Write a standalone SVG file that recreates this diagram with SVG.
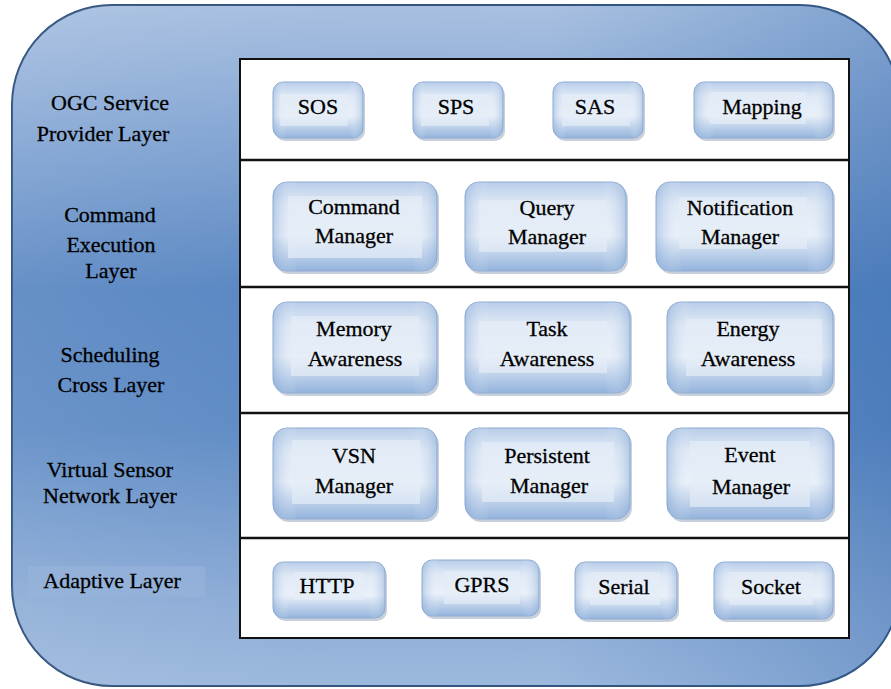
<svg xmlns="http://www.w3.org/2000/svg" width="891" height="689" viewBox="0 0 891 689">
  <defs>
    <linearGradient id="outerV" x1="0" y1="0" x2="0" y2="1">
      <stop offset="0" stop-color="#a9c1e1"/>
      <stop offset="0.12" stop-color="#92b0d9"/>
      <stop offset="0.42" stop-color="#5886c2"/>
      <stop offset="0.62" stop-color="#5e8bc5"/>
      <stop offset="0.88" stop-color="#8eadd7"/>
      <stop offset="1" stop-color="#9db9de"/>
    </linearGradient>
    <linearGradient id="outerH" x1="0" y1="0" x2="1" y2="0">
      <stop offset="0" stop-color="#ffffff" stop-opacity="0.08"/>
      <stop offset="0.6" stop-color="#3c70b2" stop-opacity="0"/>
      <stop offset="1" stop-color="#2f65aa" stop-opacity="0.35"/>
    </linearGradient>
    <linearGradient id="btn" x1="0" y1="0" x2="0" y2="1">
      <stop offset="0" stop-color="#b9cde9"/>
      <stop offset="0.25" stop-color="#dfe9f6"/>
      <stop offset="0.6" stop-color="#e9f0f9"/>
      <stop offset="1" stop-color="#93b3dc"/>
    </linearGradient>
    <linearGradient id="btnH" x1="0" y1="0" x2="1" y2="0">
      <stop offset="0" stop-color="#7fa4d3" stop-opacity="0.45"/>
      <stop offset="0.15" stop-color="#ffffff" stop-opacity="0"/>
      <stop offset="0.85" stop-color="#ffffff" stop-opacity="0"/>
      <stop offset="1" stop-color="#7fa4d3" stop-opacity="0.45"/>
    </linearGradient>
    <style>
      .lbl{font-family:'Liberation Serif','Times New Roman','DejaVu Serif',serif;font-size:22px;fill:#000;text-anchor:middle;stroke:#000;stroke-width:0.3}
      .btn{fill:url(#btn);stroke:#8eabd2;stroke-width:1}
      .btnh{fill:url(#btnH)}
      .shd{fill:#9aa9bd;opacity:0.55}
      .tb{fill:#e4ecf7;opacity:0.7}
      .div{stroke:#111;stroke-width:2.5}
    </style>
  </defs>

  <rect x="0" y="0" width="891" height="689" fill="#ffffff"/>

  <g id="frame">
    <rect x="12" y="5" width="888" height="681" rx="100" ry="100" fill="url(#outerV)" stroke="#33547e" stroke-width="2"/>
    <rect x="12" y="5" width="888" height="681" rx="100" ry="100" fill="url(#outerH)"/>
    <rect x="28" y="566" width="177" height="31" fill="#97b4da" opacity="0.6"/>
    <rect x="240" y="59" width="609" height="579" fill="#ffffff" stroke="#111" stroke-width="2"/>
  </g>

  <g id="connectors">
    <line class="div" x1="240" y1="160" x2="849" y2="160"/>
    <line class="div" x1="240" y1="287" x2="849" y2="287"/>
    <line class="div" x1="240" y1="413" x2="849" y2="413"/>
    <line class="div" x1="240" y1="538" x2="849" y2="538"/>
  </g>

  <g id="layer-labels">
    <text class="lbl" x="110" y="110">OGC Service</text>
    <text class="lbl" x="103" y="141">Provider Layer</text>
    <text class="lbl" x="110" y="222">Command</text>
    <text class="lbl" x="111" y="252">Execution</text>
    <text class="lbl" x="111" y="278">Layer</text>
    <text class="lbl" x="110" y="362">Scheduling</text>
    <text class="lbl" x="111" y="392">Cross Layer</text>
    <text class="lbl" x="110" y="477">Virtual Sensor</text>
    <text class="lbl" x="110" y="503">Network Layer</text>
    <text class="lbl" x="112" y="588">Adaptive Layer</text>
  </g>

  <!-- Row 1 -->
  <g id="sos">
    <rect class="shd" x="275" y="85" width="90" height="56" rx="10"/>
    <rect class="btn" x="273" y="82" width="90" height="56" rx="10"/>
    <rect class="btnh" x="273" y="82" width="90" height="56" rx="10"/>
    <rect class="tb" x="280" y="94" width="68" height="32"/>
    <text class="lbl" x="318" y="114">SOS</text>
  </g>
  <g id="sps">
    <rect class="shd" x="415" y="85" width="90" height="56" rx="10"/>
    <rect class="btn" x="413" y="82" width="90" height="56" rx="10"/>
    <rect class="btnh" x="413" y="82" width="90" height="56" rx="10"/>
    <rect class="tb" x="421" y="94" width="68" height="32"/>
    <text class="lbl" x="456" y="114">SPS</text>
  </g>
  <g id="sas">
    <rect class="shd" x="555" y="85" width="90" height="56" rx="10"/>
    <rect class="btn" x="553" y="82" width="90" height="56" rx="10"/>
    <rect class="btnh" x="553" y="82" width="90" height="56" rx="10"/>
    <rect class="tb" x="562" y="94" width="68" height="32"/>
    <text class="lbl" x="595" y="114">SAS</text>
  </g>
  <g id="mapping">
    <rect class="shd" x="696" y="85" width="139" height="56" rx="10"/>
    <rect class="btn" x="694" y="82" width="139" height="56" rx="10"/>
    <rect class="btnh" x="694" y="82" width="139" height="56" rx="10"/>
    <rect class="tb" x="710" y="92" width="96" height="32"/>
    <text class="lbl" x="762" y="114">Mapping</text>
  </g>

  <!-- Row 2 -->
  <g id="command-manager">
    <rect class="shd" x="275" y="185" width="164" height="89" rx="14"/>
    <rect class="btn" x="273" y="182" width="164" height="89" rx="14"/>
    <rect class="btnh" x="273" y="182" width="164" height="89" rx="14"/>
    <rect class="tb" x="288" y="196" width="134" height="62"/>
    <text class="lbl" x="354" y="214">Command</text>
    <text class="lbl" x="354" y="243">Manager</text>
  </g>
  <g id="query-manager">
    <rect class="shd" x="467" y="185" width="161" height="89" rx="14"/>
    <rect class="btn" x="465" y="182" width="161" height="89" rx="14"/>
    <rect class="btnh" x="465" y="182" width="161" height="89" rx="14"/>
    <rect class="tb" x="479" y="200" width="128" height="52"/>
    <text class="lbl" x="547" y="215">Query</text>
    <text class="lbl" x="547" y="244">Manager</text>
  </g>
  <g id="notification-manager">
    <rect class="shd" x="658" y="185" width="177" height="89" rx="14"/>
    <rect class="btn" x="656" y="182" width="177" height="89" rx="14"/>
    <rect class="btnh" x="656" y="182" width="177" height="89" rx="14"/>
    <rect class="tb" x="679" y="197" width="128" height="52"/>
    <text class="lbl" x="740" y="215">Notification</text>
    <text class="lbl" x="740" y="244">Manager</text>
  </g>

  <!-- Row 3 -->
  <g id="memory-awareness">
    <rect class="shd" x="275" y="305" width="164" height="91" rx="14"/>
    <rect class="btn" x="273" y="302" width="164" height="91" rx="14"/>
    <rect class="btnh" x="273" y="302" width="164" height="91" rx="14"/>
    <rect class="tb" x="291" y="316" width="128" height="60"/>
    <text class="lbl" x="354" y="336">Memory</text>
    <text class="lbl" x="355" y="366">Awareness</text>
  </g>
  <g id="task-awareness">
    <rect class="shd" x="467" y="305" width="165" height="91" rx="14"/>
    <rect class="btn" x="465" y="302" width="165" height="91" rx="14"/>
    <rect class="btnh" x="465" y="302" width="165" height="91" rx="14"/>
    <rect class="tb" x="479" y="321" width="128" height="52"/>
    <text class="lbl" x="547" y="336">Task</text>
    <text class="lbl" x="547" y="366">Awareness</text>
  </g>
  <g id="energy-awareness">
    <rect class="shd" x="669" y="305" width="166" height="91" rx="14"/>
    <rect class="btn" x="667" y="302" width="166" height="91" rx="14"/>
    <rect class="btnh" x="667" y="302" width="166" height="91" rx="14"/>
    <rect class="tb" x="686" y="319" width="136" height="57"/>
    <text class="lbl" x="748" y="336">Energy</text>
    <text class="lbl" x="748" y="366">Awareness</text>
  </g>

  <!-- Row 4 -->
  <g id="vsn-manager">
    <rect class="shd" x="275" y="431" width="164" height="91" rx="14"/>
    <rect class="btn" x="273" y="428" width="164" height="91" rx="14"/>
    <rect class="btnh" x="273" y="428" width="164" height="91" rx="14"/>
    <rect class="tb" x="292" y="440" width="128" height="64"/>
    <text class="lbl" x="354" y="463">VSN</text>
    <text class="lbl" x="354" y="493">Manager</text>
  </g>
  <g id="persistent-manager">
    <rect class="shd" x="467" y="431" width="165" height="91" rx="14"/>
    <rect class="btn" x="465" y="428" width="165" height="91" rx="14"/>
    <rect class="btnh" x="465" y="428" width="165" height="91" rx="14"/>
    <rect class="tb" x="482" y="442" width="132" height="60"/>
    <text class="lbl" x="547" y="463">Persistent</text>
    <text class="lbl" x="549" y="493">Manager</text>
  </g>
  <g id="event-manager">
    <rect class="shd" x="669" y="431" width="166" height="91" rx="14"/>
    <rect class="btn" x="667" y="428" width="166" height="91" rx="14"/>
    <rect class="btnh" x="667" y="428" width="166" height="91" rx="14"/>
    <rect class="tb" x="690" y="441" width="120" height="66"/>
    <text class="lbl" x="750" y="462">Event</text>
    <text class="lbl" x="751" y="494">Manager</text>
  </g>

  <!-- Row 5 -->
  <g id="http">
    <rect class="shd" x="275" y="565" width="112" height="56" rx="10"/>
    <rect class="btn" x="273" y="562" width="112" height="56" rx="10"/>
    <rect class="btnh" x="273" y="562" width="112" height="56" rx="10"/>
    <rect class="tb" x="294" y="572" width="70" height="28"/>
    <text class="lbl" x="327" y="593">HTTP</text>
  </g>
  <g id="gprs">
    <rect class="shd" x="424" y="563" width="117" height="56" rx="10"/>
    <rect class="btn" x="422" y="560" width="117" height="56" rx="10"/>
    <rect class="btnh" x="422" y="560" width="117" height="56" rx="10"/>
    <rect class="tb" x="444" y="571" width="76" height="33"/>
    <text class="lbl" x="482" y="592">GPRS</text>
  </g>
  <g id="serial">
    <rect class="shd" x="577" y="565" width="102" height="57" rx="10"/>
    <rect class="btn" x="575" y="562" width="102" height="57" rx="10"/>
    <rect class="btnh" x="575" y="562" width="102" height="57" rx="10"/>
    <rect class="tb" x="590" y="572" width="70" height="33"/>
    <text class="lbl" x="624" y="594">Serial</text>
  </g>
  <g id="socket">
    <rect class="shd" x="716" y="565" width="119" height="57" rx="10"/>
    <rect class="btn" x="714" y="562" width="119" height="57" rx="10"/>
    <rect class="btnh" x="714" y="562" width="119" height="57" rx="10"/>
    <rect class="tb" x="729" y="572" width="84" height="33"/>
    <text class="lbl" x="771" y="594">Socket</text>
  </g>
</svg>
